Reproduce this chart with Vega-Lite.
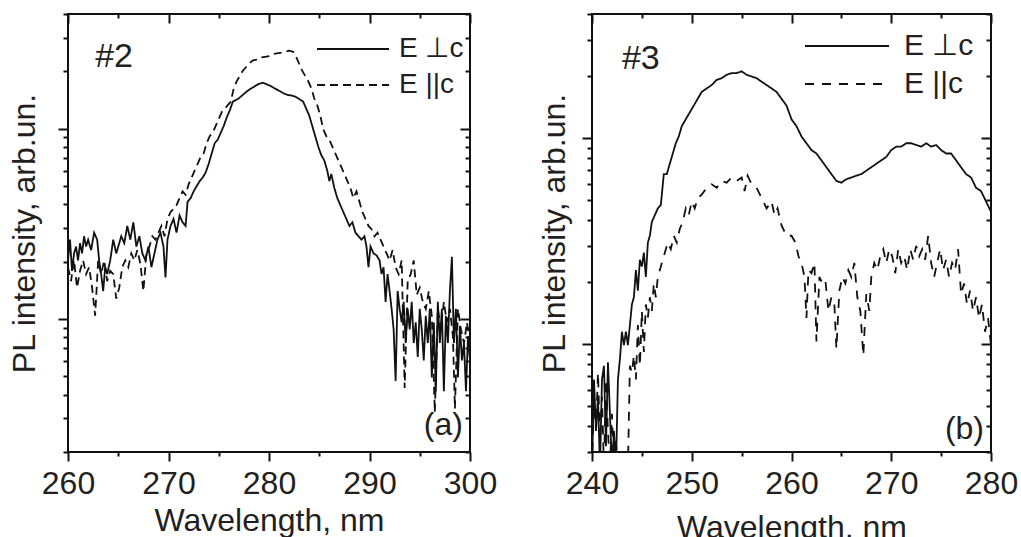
{
"$schema": "https://vega.github.io/schema/vega-lite/v6.json",
"background": "white",
"padding": {"left": 7, "top": 12, "right": 0, "bottom": 0},
"spacing": 39,
"config": {
  "font": "Liberation Sans",
  "view": {"stroke": "#111", "strokeWidth": 2},
  "axis": {"domain": false, "grid": false, "tickColor": "#111", "tickWidth": 2, "labelColor": "#231f20", "titleColor": "#231f20", "labelFontSize": 32, "titleFontSize": 32, "titleFontWeight": "normal", "labelFont": "Liberation Sans", "titleFont": "Liberation Sans", "labelFlush": false, "labelOverlap": false},
  "legend": {"labelColor": "#231f20", "labelFont": "Liberation Sans"}
},
"resolve": {"scale": {"strokeDash": "independent"}, "legend": {"strokeDash": "independent"}},
"datasets": {
"a": [
{"wl":260.0,"I":2.03,"s":"perp"},{"wl":260.2,"I":2.61,"s":"perp"},{"wl":260.4,"I":1.79,"s":"perp"},{"wl":260.6,"I":2.21,"s":"perp"},{"wl":260.8,"I":2.40,"s":"perp"},{"wl":261.0,"I":2.03,"s":"perp"},{"wl":261.2,"I":2.50,"s":"perp"},{"wl":261.4,"I":2.21,"s":"perp"},{"wl":261.6,"I":2.72,"s":"perp"},{"wl":261.8,"I":2.40,"s":"perp"},{"wl":262.0,"I":2.61,"s":"perp"},{"wl":262.3,"I":2.30,"s":"perp"},{"wl":262.6,"I":2.84,"s":"perp"},{"wl":262.9,"I":2.61,"s":"perp"},{"wl":263.1,"I":2.03,"s":"perp"},{"wl":263.3,"I":1.72,"s":"perp"},{"wl":263.5,"I":1.40,"s":"perp"},{"wl":263.7,"I":1.87,"s":"perp"},{"wl":263.9,"I":1.72,"s":"perp"},{"wl":264.2,"I":2.03,"s":"perp"},{"wl":264.5,"I":2.61,"s":"perp"},{"wl":264.8,"I":2.21,"s":"perp"},{"wl":265.0,"I":2.40,"s":"perp"},{"wl":265.3,"I":2.72,"s":"perp"},{"wl":265.6,"I":2.50,"s":"perp"},{"wl":265.9,"I":3.08,"s":"perp"},{"wl":266.2,"I":2.61,"s":"perp"},{"wl":266.5,"I":3.22,"s":"perp"},{"wl":266.8,"I":2.40,"s":"perp"},{"wl":267.1,"I":2.72,"s":"perp"},{"wl":267.4,"I":2.21,"s":"perp"},{"wl":267.7,"I":2.03,"s":"perp"},{"wl":268.0,"I":2.40,"s":"perp"},{"wl":268.3,"I":1.87,"s":"perp"},{"wl":268.6,"I":2.21,"s":"perp"},{"wl":268.9,"I":2.61,"s":"perp"},{"wl":269.2,"I":2.84,"s":"perp"},{"wl":269.5,"I":2.40,"s":"perp"},{"wl":269.7,"I":1.65,"s":"perp"},{"wl":269.9,"I":2.61,"s":"perp"},{"wl":270.2,"I":3.08,"s":"perp"},{"wl":270.5,"I":3.35,"s":"perp"},{"wl":270.8,"I":2.84,"s":"perp"},{"wl":271.1,"I":3.50,"s":"perp"},{"wl":271.4,"I":3.22,"s":"perp"},{"wl":271.7,"I":3.08,"s":"perp"},{"wl":271.9,"I":4.13,"s":"perp"},{"wl":272.2,"I":4.31,"s":"perp"},{"wl":272.5,"I":4.68,"s":"perp"},{"wl":272.8,"I":4.98,"s":"perp"},{"wl":273.1,"I":5.30,"s":"perp"},{"wl":273.4,"I":5.53,"s":"perp"},{"wl":273.7,"I":5.89,"s":"perp"},{"wl":274.0,"I":6.53,"s":"perp"},{"wl":274.3,"I":7.41,"s":"perp"},{"wl":274.6,"I":8.39,"s":"perp"},{"wl":274.9,"I":8.75,"s":"perp"},{"wl":275.2,"I":9.51,"s":"perp"},{"wl":275.5,"I":10.34,"s":"perp"},{"wl":275.8,"I":11.47,"s":"perp"},{"wl":276.1,"I":12.47,"s":"perp"},{"wl":276.4,"I":13.85,"s":"perp"},{"wl":276.7,"I":14.13,"s":"perp"},{"wl":277.0,"I":14.43,"s":"perp"},{"wl":277.4,"I":15.05,"s":"perp"},{"wl":277.8,"I":15.69,"s":"perp"},{"wl":278.2,"I":16.23,"s":"perp"},{"wl":278.6,"I":16.71,"s":"perp"},{"wl":279.0,"I":17.20,"s":"perp"},{"wl":279.4,"I":17.42,"s":"perp"},{"wl":279.8,"I":17.06,"s":"perp"},{"wl":280.2,"I":16.71,"s":"perp"},{"wl":280.6,"I":16.23,"s":"perp"},{"wl":281.0,"I":15.82,"s":"perp"},{"wl":281.4,"I":15.37,"s":"perp"},{"wl":281.8,"I":15.05,"s":"perp"},{"wl":282.2,"I":14.93,"s":"perp"},{"wl":282.6,"I":14.74,"s":"perp"},{"wl":283.0,"I":14.31,"s":"perp"},{"wl":283.4,"I":13.85,"s":"perp"},{"wl":283.7,"I":12.74,"s":"perp"},{"wl":284.0,"I":11.72,"s":"perp"},{"wl":284.3,"I":10.34,"s":"perp"},{"wl":284.6,"I":9.12,"s":"perp"},{"wl":284.9,"I":8.05,"s":"perp"},{"wl":285.2,"I":7.25,"s":"perp"},{"wl":285.5,"I":6.81,"s":"perp"},{"wl":285.8,"I":6.01,"s":"perp"},{"wl":286.0,"I":5.30,"s":"perp"},{"wl":286.2,"I":5.77,"s":"perp"},{"wl":286.5,"I":4.88,"s":"perp"},{"wl":286.8,"I":4.31,"s":"perp"},{"wl":287.1,"I":3.96,"s":"perp"},{"wl":287.4,"I":3.64,"s":"perp"},{"wl":287.7,"I":3.35,"s":"perp"},{"wl":288.0,"I":3.08,"s":"perp"},{"wl":288.3,"I":3.22,"s":"perp"},{"wl":288.6,"I":2.84,"s":"perp"},{"wl":288.9,"I":2.72,"s":"perp"},{"wl":289.2,"I":2.61,"s":"perp"},{"wl":289.5,"I":2.72,"s":"perp"},{"wl":289.7,"I":2.40,"s":"perp"},{"wl":289.9,"I":1.87,"s":"perp"},{"wl":290.1,"I":2.40,"s":"perp"},{"wl":290.4,"I":2.21,"s":"perp"},{"wl":290.7,"I":2.16,"s":"perp"},{"wl":291.0,"I":2.03,"s":"perp"},{"wl":291.2,"I":1.72,"s":"perp"},{"wl":291.4,"I":1.87,"s":"perp"},{"wl":291.6,"I":1.23,"s":"perp"},{"wl":291.8,"I":1.72,"s":"perp"},{"wl":292.0,"I":1.40,"s":"perp"},{"wl":292.2,"I":1.13,"s":"perp"},{"wl":292.4,"I":0.882,"s":"perp"},{"wl":292.6,"I":0.472,"s":"perp"},{"wl":292.8,"I":1.40,"s":"perp"},{"wl":293.0,"I":1.13,"s":"perp"},{"wl":293.2,"I":0.959,"s":"perp"},{"wl":293.4,"I":1.23,"s":"perp"},{"wl":293.6,"I":0.747,"s":"perp"},{"wl":293.8,"I":1.13,"s":"perp"},{"wl":294.0,"I":0.882,"s":"perp"},{"wl":294.2,"I":1.23,"s":"perp"},{"wl":294.4,"I":0.747,"s":"perp"},{"wl":294.6,"I":0.959,"s":"perp"},{"wl":294.8,"I":0.632,"s":"perp"},{"wl":295.0,"I":1.13,"s":"perp"},{"wl":295.2,"I":0.882,"s":"perp"},{"wl":295.4,"I":0.606,"s":"perp"},{"wl":295.6,"I":1.04,"s":"perp"},{"wl":295.8,"I":0.747,"s":"perp"},{"wl":296.0,"I":1.13,"s":"perp"},{"wl":296.2,"I":0.492,"s":"perp"},{"wl":296.4,"I":0.959,"s":"perp"},{"wl":296.6,"I":0.417,"s":"perp"},{"wl":296.8,"I":1.23,"s":"perp"},{"wl":297.0,"I":0.747,"s":"perp"},{"wl":297.2,"I":1.13,"s":"perp"},{"wl":297.4,"I":0.417,"s":"perp"},{"wl":297.6,"I":1.04,"s":"perp"},{"wl":297.8,"I":0.747,"s":"perp"},{"wl":298.0,"I":1.40,"s":"perp"},{"wl":298.2,"I":2.12,"s":"perp"},{"wl":298.4,"I":0.747,"s":"perp"},{"wl":298.6,"I":1.13,"s":"perp"},{"wl":298.8,"I":0.492,"s":"perp"},{"wl":299.0,"I":0.920,"s":"perp"},{"wl":299.2,"I":0.606,"s":"perp"},{"wl":299.4,"I":0.747,"s":"perp"},{"wl":299.6,"I":0.417,"s":"perp"},{"wl":299.8,"I":0.812,"s":"perp"},{"wl":300.0,"I":0.606,"s":"perp"},
{"wl":260.0,"I":1.87,"s":"par"},{"wl":260.3,"I":1.58,"s":"par"},{"wl":260.6,"I":2.03,"s":"par"},{"wl":260.9,"I":1.46,"s":"par"},{"wl":261.2,"I":1.79,"s":"par"},{"wl":261.5,"I":2.03,"s":"par"},{"wl":261.8,"I":1.72,"s":"par"},{"wl":262.1,"I":1.87,"s":"par"},{"wl":262.4,"I":1.46,"s":"par"},{"wl":262.7,"I":1.04,"s":"par"},{"wl":263.0,"I":2.03,"s":"par"},{"wl":263.3,"I":1.72,"s":"par"},{"wl":263.6,"I":2.03,"s":"par"},{"wl":263.9,"I":1.58,"s":"par"},{"wl":264.2,"I":1.79,"s":"par"},{"wl":264.5,"I":1.72,"s":"par"},{"wl":264.8,"I":1.28,"s":"par"},{"wl":265.1,"I":1.46,"s":"par"},{"wl":265.4,"I":1.87,"s":"par"},{"wl":265.7,"I":2.03,"s":"par"},{"wl":266.0,"I":1.87,"s":"par"},{"wl":266.3,"I":2.21,"s":"par"},{"wl":266.6,"I":2.03,"s":"par"},{"wl":266.9,"I":2.30,"s":"par"},{"wl":267.2,"I":1.95,"s":"par"},{"wl":267.5,"I":1.40,"s":"par"},{"wl":267.8,"I":2.21,"s":"par"},{"wl":268.1,"I":2.40,"s":"par"},{"wl":268.4,"I":2.72,"s":"par"},{"wl":268.7,"I":2.61,"s":"par"},{"wl":269.0,"I":2.84,"s":"par"},{"wl":269.3,"I":3.08,"s":"par"},{"wl":269.6,"I":2.72,"s":"par"},{"wl":269.9,"I":3.35,"s":"par"},{"wl":270.2,"I":3.64,"s":"par"},{"wl":270.5,"I":3.80,"s":"par"},{"wl":270.8,"I":3.96,"s":"par"},{"wl":271.1,"I":4.31,"s":"par"},{"wl":271.4,"I":4.68,"s":"par"},{"wl":271.7,"I":4.49,"s":"par"},{"wl":272.0,"I":5.09,"s":"par"},{"wl":272.3,"I":5.53,"s":"par"},{"wl":272.6,"I":6.01,"s":"par"},{"wl":272.9,"I":6.53,"s":"par"},{"wl":273.2,"I":7.10,"s":"par"},{"wl":273.5,"I":7.41,"s":"par"},{"wl":273.8,"I":8.39,"s":"par"},{"wl":274.1,"I":9.12,"s":"par"},{"wl":274.4,"I":9.51,"s":"par"},{"wl":274.7,"I":10.34,"s":"par"},{"wl":275.0,"I":11.24,"s":"par"},{"wl":275.3,"I":12.22,"s":"par"},{"wl":275.6,"I":12.74,"s":"par"},{"wl":275.9,"I":13.28,"s":"par"},{"wl":276.2,"I":13.85,"s":"par"},{"wl":276.5,"I":16.36,"s":"par"},{"wl":276.8,"I":17.78,"s":"par"},{"wl":277.1,"I":18.93,"s":"par"},{"wl":277.4,"I":20.15,"s":"par"},{"wl":277.7,"I":21.01,"s":"par"},{"wl":278.0,"I":21.91,"s":"par"},{"wl":278.4,"I":22.84,"s":"par"},{"wl":278.8,"I":23.03,"s":"par"},{"wl":279.2,"I":23.62,"s":"par"},{"wl":279.6,"I":23.82,"s":"par"},{"wl":280.0,"I":24.01,"s":"par"},{"wl":280.4,"I":24.62,"s":"par"},{"wl":280.8,"I":24.83,"s":"par"},{"wl":281.2,"I":25.04,"s":"par"},{"wl":281.6,"I":25.35,"s":"par"},{"wl":282.0,"I":25.67,"s":"par"},{"wl":282.4,"I":25.35,"s":"par"},{"wl":282.7,"I":23.82,"s":"par"},{"wl":283.0,"I":21.91,"s":"par"},{"wl":283.3,"I":20.15,"s":"par"},{"wl":283.6,"I":18.93,"s":"par"},{"wl":283.9,"I":17.78,"s":"par"},{"wl":284.2,"I":16.36,"s":"par"},{"wl":284.5,"I":14.43,"s":"par"},{"wl":284.8,"I":13.28,"s":"par"},{"wl":285.1,"I":11.72,"s":"par"},{"wl":285.4,"I":9.92,"s":"par"},{"wl":285.7,"I":9.12,"s":"par"},{"wl":286.0,"I":8.75,"s":"par"},{"wl":286.3,"I":8.05,"s":"par"},{"wl":286.6,"I":7.41,"s":"par"},{"wl":286.9,"I":6.81,"s":"par"},{"wl":287.2,"I":6.27,"s":"par"},{"wl":287.5,"I":5.77,"s":"par"},{"wl":287.8,"I":5.30,"s":"par"},{"wl":288.1,"I":4.88,"s":"par"},{"wl":288.4,"I":4.31,"s":"par"},{"wl":288.7,"I":4.68,"s":"par"},{"wl":289.0,"I":4.13,"s":"par"},{"wl":289.3,"I":3.64,"s":"par"},{"wl":289.6,"I":3.35,"s":"par"},{"wl":289.9,"I":3.08,"s":"par"},{"wl":290.2,"I":2.96,"s":"par"},{"wl":290.5,"I":2.72,"s":"par"},{"wl":290.8,"I":2.84,"s":"par"},{"wl":291.1,"I":2.61,"s":"par"},{"wl":291.4,"I":2.40,"s":"par"},{"wl":291.7,"I":2.21,"s":"par"},{"wl":292.0,"I":2.03,"s":"par"},{"wl":292.3,"I":2.30,"s":"par"},{"wl":292.6,"I":1.87,"s":"par"},{"wl":292.9,"I":1.72,"s":"par"},{"wl":293.2,"I":2.03,"s":"par"},{"wl":293.5,"I":0.434,"s":"par"},{"wl":293.8,"I":1.58,"s":"par"},{"wl":294.1,"I":1.72,"s":"par"},{"wl":294.4,"I":2.03,"s":"par"},{"wl":294.7,"I":1.34,"s":"par"},{"wl":295.0,"I":1.46,"s":"par"},{"wl":295.3,"I":1.23,"s":"par"},{"wl":295.6,"I":1.13,"s":"par"},{"wl":295.9,"I":1.40,"s":"par"},{"wl":296.2,"I":1.04,"s":"par"},{"wl":296.5,"I":0.324,"s":"par"},{"wl":296.8,"I":1.13,"s":"par"},{"wl":297.1,"I":0.882,"s":"par"},{"wl":297.4,"I":1.23,"s":"par"},{"wl":297.7,"I":0.959,"s":"par"},{"wl":298.0,"I":1.13,"s":"par"},{"wl":298.3,"I":0.812,"s":"par"},{"wl":298.5,"I":0.338,"s":"par"},{"wl":298.8,"I":1.13,"s":"par"},{"wl":299.1,"I":0.882,"s":"par"},{"wl":299.4,"I":0.747,"s":"par"},{"wl":299.7,"I":0.959,"s":"par"},{"wl":300.0,"I":0.747,"s":"par"}
],
"b": [
{"wl":240.0,"I":0.25,"s":"perp"},{"wl":240.2,"I":0.674,"s":"perp"},{"wl":240.4,"I":0.380,"s":"perp"},{"wl":240.6,"I":0.557,"s":"perp"},{"wl":240.8,"I":0.25,"s":"perp"},{"wl":241.0,"I":0.674,"s":"perp"},{"wl":241.2,"I":0.786,"s":"perp"},{"wl":241.4,"I":0.32,"s":"perp"},{"wl":241.6,"I":0.817,"s":"perp"},{"wl":241.8,"I":0.460,"s":"perp"},{"wl":242.0,"I":0.25,"s":"perp"},{"wl":242.2,"I":0.380,"s":"perp"},{"wl":242.4,"I":0.25,"s":"perp"},{"wl":242.6,"I":0.674,"s":"perp"},{"wl":242.8,"I":0.848,"s":"perp"},{"wl":243.0,"I":1.15,"s":"perp"},{"wl":243.2,"I":0.989,"s":"perp"},{"wl":243.4,"I":1.15,"s":"perp"},{"wl":243.6,"I":0.989,"s":"perp"},{"wl":243.8,"I":1.24,"s":"perp"},{"wl":244.0,"I":1.56,"s":"perp"},{"wl":244.2,"I":1.69,"s":"perp"},{"wl":244.4,"I":2.29,"s":"perp"},{"wl":244.6,"I":1.82,"s":"perp"},{"wl":244.8,"I":2.57,"s":"perp"},{"wl":245.0,"I":2.38,"s":"perp"},{"wl":245.2,"I":2.78,"s":"perp"},{"wl":245.4,"I":2.12,"s":"perp"},{"wl":245.6,"I":3.11,"s":"perp"},{"wl":245.8,"I":3.36,"s":"perp"},{"wl":246.0,"I":3.92,"s":"perp"},{"wl":246.3,"I":4.23,"s":"perp"},{"wl":246.6,"I":4.56,"s":"perp"},{"wl":246.9,"I":4.74,"s":"perp"},{"wl":247.2,"I":6.69,"s":"perp"},{"wl":247.5,"I":6.69,"s":"perp"},{"wl":247.8,"I":7.51,"s":"perp"},{"wl":248.1,"I":8.42,"s":"perp"},{"wl":248.4,"I":9.44,"s":"perp"},{"wl":248.7,"I":10.19,"s":"perp"},{"wl":249.0,"I":11.43,"s":"perp"},{"wl":249.4,"I":12.34,"s":"perp"},{"wl":249.8,"I":13.32,"s":"perp"},{"wl":250.2,"I":14.38,"s":"perp"},{"wl":250.6,"I":15.52,"s":"perp"},{"wl":251.0,"I":16.76,"s":"perp"},{"wl":251.5,"I":17.42,"s":"perp"},{"wl":252.0,"I":18.09,"s":"perp"},{"wl":252.5,"I":19.16,"s":"perp"},{"wl":253.0,"I":19.53,"s":"perp"},{"wl":253.5,"I":20.29,"s":"perp"},{"wl":254.0,"I":20.68,"s":"perp"},{"wl":254.5,"I":20.68,"s":"perp"},{"wl":255.0,"I":21.08,"s":"perp"},{"wl":255.5,"I":20.29,"s":"perp"},{"wl":256.0,"I":19.9,"s":"perp"},{"wl":256.5,"I":19.53,"s":"perp"},{"wl":257.0,"I":18.79,"s":"perp"},{"wl":257.5,"I":18.09,"s":"perp"},{"wl":258.0,"I":17.42,"s":"perp"},{"wl":258.5,"I":16.76,"s":"perp"},{"wl":259.0,"I":15.52,"s":"perp"},{"wl":259.5,"I":14.38,"s":"perp"},{"wl":260.0,"I":12.34,"s":"perp"},{"wl":260.5,"I":11.43,"s":"perp"},{"wl":261.0,"I":10.19,"s":"perp"},{"wl":261.5,"I":9.44,"s":"perp"},{"wl":262.0,"I":8.75,"s":"perp"},{"wl":262.5,"I":8.42,"s":"perp"},{"wl":263.0,"I":7.80,"s":"perp"},{"wl":263.5,"I":7.22,"s":"perp"},{"wl":264.0,"I":6.69,"s":"perp"},{"wl":264.5,"I":6.20,"s":"perp"},{"wl":265.0,"I":6.08,"s":"perp"},{"wl":265.5,"I":6.32,"s":"perp"},{"wl":266.0,"I":6.44,"s":"perp"},{"wl":266.5,"I":6.57,"s":"perp"},{"wl":267.0,"I":6.69,"s":"perp"},{"wl":267.5,"I":6.95,"s":"perp"},{"wl":268.0,"I":7.22,"s":"perp"},{"wl":268.5,"I":7.51,"s":"perp"},{"wl":269.0,"I":7.80,"s":"perp"},{"wl":269.5,"I":8.10,"s":"perp"},{"wl":270.0,"I":8.75,"s":"perp"},{"wl":270.5,"I":9.09,"s":"perp"},{"wl":271.0,"I":9.09,"s":"perp"},{"wl":271.5,"I":9.44,"s":"perp"},{"wl":272.0,"I":9.44,"s":"perp"},{"wl":272.5,"I":9.26,"s":"perp"},{"wl":273.0,"I":9.09,"s":"perp"},{"wl":273.5,"I":9.44,"s":"perp"},{"wl":274.0,"I":9.09,"s":"perp"},{"wl":274.5,"I":9.26,"s":"perp"},{"wl":275.0,"I":8.75,"s":"perp"},{"wl":275.5,"I":8.42,"s":"perp"},{"wl":276.0,"I":8.42,"s":"perp"},{"wl":276.5,"I":7.80,"s":"perp"},{"wl":277.0,"I":7.22,"s":"perp"},{"wl":277.5,"I":6.69,"s":"perp"},{"wl":278.0,"I":6.44,"s":"perp"},{"wl":278.5,"I":5.74,"s":"perp"},{"wl":279.0,"I":5.53,"s":"perp"},{"wl":279.5,"I":4.93,"s":"perp"},{"wl":280.0,"I":4.39,"s":"perp"},
{"wl":240.0,"I":0.25,"s":"par"},{"wl":240.2,"I":0.557,"s":"par"},{"wl":240.4,"I":0.38,"s":"par"},{"wl":240.6,"I":0.728,"s":"par"},{"wl":240.8,"I":0.339,"s":"par"},{"wl":241.0,"I":0.557,"s":"par"},{"wl":241.2,"I":0.25,"s":"par"},{"wl":241.4,"I":0.674,"s":"par"},{"wl":241.6,"I":0.38,"s":"par"},{"wl":241.8,"I":0.25,"s":"par"},{"wl":242.0,"I":0.46,"s":"par"},{"wl":242.2,"I":0.25,"s":"par"},{"wl":242.4,"I":0.339,"s":"par"},{"wl":242.6,"I":0.25,"s":"par"},{"wl":243.0,"I":0.25,"s":"par"},{"wl":243.6,"I":0.25,"s":"par"},{"wl":243.8,"I":0.786,"s":"par"},{"wl":244.0,"I":0.728,"s":"par"},{"wl":244.2,"I":0.882,"s":"par"},{"wl":244.4,"I":0.674,"s":"par"},{"wl":244.6,"I":1.24,"s":"par"},{"wl":244.8,"I":0.786,"s":"par"},{"wl":245.0,"I":1.45,"s":"par"},{"wl":245.2,"I":0.916,"s":"par"},{"wl":245.4,"I":1.56,"s":"par"},{"wl":245.6,"I":1.34,"s":"par"},{"wl":245.8,"I":1.69,"s":"par"},{"wl":246.0,"I":1.45,"s":"par"},{"wl":246.2,"I":1.97,"s":"par"},{"wl":246.4,"I":1.69,"s":"par"},{"wl":246.6,"I":2.12,"s":"par"},{"wl":246.8,"I":2.29,"s":"par"},{"wl":247.0,"I":2.48,"s":"par"},{"wl":247.3,"I":2.78,"s":"par"},{"wl":247.6,"I":3.11,"s":"par"},{"wl":247.9,"I":2.89,"s":"par"},{"wl":248.2,"I":3.36,"s":"par"},{"wl":248.5,"I":3.11,"s":"par"},{"wl":248.8,"I":3.63,"s":"par"},{"wl":249.1,"I":3.92,"s":"par"},{"wl":249.4,"I":4.56,"s":"par"},{"wl":249.7,"I":4.23,"s":"par"},{"wl":250.0,"I":4.93,"s":"par"},{"wl":250.3,"I":4.56,"s":"par"},{"wl":250.6,"I":5.12,"s":"par"},{"wl":251.0,"I":5.32,"s":"par"},{"wl":251.5,"I":5.74,"s":"par"},{"wl":252.0,"I":5.97,"s":"par"},{"wl":252.5,"I":5.74,"s":"par"},{"wl":253.0,"I":6.20,"s":"par"},{"wl":253.5,"I":6.08,"s":"par"},{"wl":254.0,"I":6.44,"s":"par"},{"wl":254.5,"I":6.20,"s":"par"},{"wl":255.0,"I":6.44,"s":"par"},{"wl":255.3,"I":5.53,"s":"par"},{"wl":255.6,"I":6.57,"s":"par"},{"wl":256.0,"I":5.97,"s":"par"},{"wl":256.5,"I":5.74,"s":"par"},{"wl":257.0,"I":5.12,"s":"par"},{"wl":257.5,"I":4.56,"s":"par"},{"wl":258.0,"I":4.93,"s":"par"},{"wl":258.3,"I":4.23,"s":"par"},{"wl":258.6,"I":4.56,"s":"par"},{"wl":259.0,"I":3.77,"s":"par"},{"wl":259.5,"I":3.36,"s":"par"},{"wl":260.0,"I":3.36,"s":"par"},{"wl":260.4,"I":3.11,"s":"par"},{"wl":260.7,"I":2.67,"s":"par"},{"wl":261.0,"I":2.48,"s":"par"},{"wl":261.3,"I":2.12,"s":"par"},{"wl":261.5,"I":1.34,"s":"par"},{"wl":261.7,"I":2.29,"s":"par"},{"wl":262.0,"I":2.21,"s":"par"},{"wl":262.3,"I":2.48,"s":"par"},{"wl":262.5,"I":1.03,"s":"par"},{"wl":262.8,"I":2.12,"s":"par"},{"wl":263.1,"I":1.97,"s":"par"},{"wl":263.4,"I":2.04,"s":"par"},{"wl":263.7,"I":1.45,"s":"par"},{"wl":264.0,"I":1.69,"s":"par"},{"wl":264.3,"I":1.56,"s":"par"},{"wl":264.5,"I":0.951,"s":"par"},{"wl":264.8,"I":1.82,"s":"par"},{"wl":265.1,"I":2.12,"s":"par"},{"wl":265.4,"I":1.97,"s":"par"},{"wl":265.7,"I":2.29,"s":"par"},{"wl":266.0,"I":2.12,"s":"par"},{"wl":266.3,"I":2.48,"s":"par"},{"wl":266.6,"I":1.69,"s":"par"},{"wl":266.9,"I":1.45,"s":"par"},{"wl":267.2,"I":0.882,"s":"par"},{"wl":267.5,"I":1.75,"s":"par"},{"wl":267.8,"I":1.45,"s":"par"},{"wl":268.0,"I":2.12,"s":"par"},{"wl":268.3,"I":2.48,"s":"par"},{"wl":268.6,"I":2.29,"s":"par"},{"wl":268.9,"I":2.67,"s":"par"},{"wl":269.2,"I":2.89,"s":"par"},{"wl":269.5,"I":2.48,"s":"par"},{"wl":269.8,"I":2.89,"s":"par"},{"wl":270.1,"I":2.67,"s":"par"},{"wl":270.4,"I":2.21,"s":"par"},{"wl":270.7,"I":2.89,"s":"par"},{"wl":271.0,"I":2.48,"s":"par"},{"wl":271.3,"I":2.67,"s":"par"},{"wl":271.6,"I":2.29,"s":"par"},{"wl":271.9,"I":2.89,"s":"par"},{"wl":272.2,"I":2.57,"s":"par"},{"wl":272.5,"I":3.0,"s":"par"},{"wl":272.8,"I":2.67,"s":"par"},{"wl":273.1,"I":2.89,"s":"par"},{"wl":273.4,"I":2.57,"s":"par"},{"wl":273.7,"I":3.36,"s":"par"},{"wl":274.0,"I":2.48,"s":"par"},{"wl":274.3,"I":2.12,"s":"par"},{"wl":274.6,"I":2.48,"s":"par"},{"wl":274.9,"I":2.89,"s":"par"},{"wl":275.2,"I":2.29,"s":"par"},{"wl":275.5,"I":2.57,"s":"par"},{"wl":275.8,"I":2.12,"s":"par"},{"wl":276.1,"I":2.48,"s":"par"},{"wl":276.4,"I":2.29,"s":"par"},{"wl":276.7,"I":2.89,"s":"par"},{"wl":277.0,"I":1.75,"s":"par"},{"wl":277.3,"I":1.97,"s":"par"},{"wl":277.6,"I":1.56,"s":"par"},{"wl":277.9,"I":1.82,"s":"par"},{"wl":278.2,"I":1.45,"s":"par"},{"wl":278.5,"I":1.69,"s":"par"},{"wl":278.8,"I":1.34,"s":"par"},{"wl":279.1,"I":1.56,"s":"par"},{"wl":279.4,"I":1.15,"s":"par"},{"wl":279.7,"I":1.34,"s":"par"},{"wl":280.0,"I":0.989,"s":"par"}
]
},
"hconcat": [
{
  "width": 402, "height": 438,
  "layer": [
    {
      "data": {"name": "a"},
      "mark": {"type": "line", "clip": true, "strokeWidth": 1.8, "color": "#111"},
      "encoding": {
        "x": {"field": "wl", "type": "quantitative", "scale": {"domain": [260, 300], "nice": false, "zero": false},
              "axis": {"orient": "bottom", "values": [260,270,280,290,300], "tickSize": 9, "labelPadding": 7, "title": "Wavelength, nm", "titlePadding": 6}},
        "y": {"field": "I", "type": "quantitative", "scale": {"type": "log", "domain": [0.2, 40], "nice": false},
              "axis": {"orient": "left", "values": [1, 10], "labels": false, "tickSize": 10, "title": "PL intensity, arb.un.", "titlePadding": 16}},
        "strokeDash": {"field": "s", "type": "nominal", "scale": {"domain": ["perp", "par"], "range": [[1, 0], [8, 5]]},
              "legend": {"orient": "top-right", "title": " ", "titleFontSize": 11, "titlePadding": 4, "offset": 6, "padding": 0, "symbolType": "M-1,0H11", "symbolSize": 144, "symbolStrokeWidth": 2, "labelOffset": 62, "labelFontSize": 28, "rowPadding": 8, "labelExpr": "datum.value == 'perp' ? 'E ⊥c' : 'E ||c'"}}
      }
    },
    {
      "data": {"values": [{"wl": 262.7, "I": 23.8, "label": "#2"}]},
      "mark": {"type": "text", "align": "left", "baseline": "middle", "fontSize": 34, "color": "#231f20"},
      "encoding": {
        "x": {"field": "wl", "type": "quantitative", "scale": {"domain": [260, 300], "nice": false, "zero": false},
              "axis": {"orient": "top", "values": [260,270,280,290,300], "labels": false, "title": null, "tickSize": -9}},
        "y": {"field": "I", "type": "quantitative", "scale": {"type": "log", "domain": [0.2, 40], "nice": false},
              "axis": {"orient": "right", "values": [1, 10], "labels": false, "title": null, "tickSize": -10}},
        "text": {"field": "label"}
      }
    },
    {
      "data": {"values": [{"wl": 299.3, "I": 0.277, "label": "(a)"}]},
      "mark": {"type": "text", "align": "right", "baseline": "middle", "fontSize": 32, "color": "#231f20"},
      "encoding": {
        "x": {"field": "wl", "type": "quantitative", "scale": {"domain": [260, 300], "nice": false, "zero": false},
              "axis": {"orient": "bottom", "values": [265,275,285,295], "labels": false, "title": null, "tickSize": 4}},
        "y": {"field": "I", "type": "quantitative", "scale": {"type": "log", "domain": [0.2, 40], "nice": false},
              "axis": {"orient": "left", "values": [0.2,0.3,0.4,0.5,0.6,0.7,0.8,0.9,2,3,4,5,6,7,8,9,20,30,40], "labels": false, "title": null, "tickSize": 5}},
        "text": {"field": "label"}
      }
    },
    {
      "data": {"values": [{"wl": 262.7, "I": 23.8, "label": "#2"}]},
      "mark": {"type": "text", "opacity": 0, "fontSize": 10},
      "encoding": {
        "x": {"field": "wl", "type": "quantitative", "scale": {"domain": [260, 300], "nice": false, "zero": false},
              "axis": {"orient": "top", "values": [265,275,285,295], "labels": false, "title": null, "tickSize": -4}},
        "y": {"field": "I", "type": "quantitative", "scale": {"type": "log", "domain": [0.2, 40], "nice": false},
              "axis": {"orient": "right", "values": [0.2,0.3,0.4,0.5,0.6,0.7,0.8,0.9,2,3,4,5,6,7,8,9,20,30,40], "labels": false, "title": null, "tickSize": -5}},
        "text": {"field": "label"}
      }
    }
  ],
  "resolve": {"axis": {"x": "independent", "y": "independent"}}
},
{
  "width": 399, "height": 438,
  "layer": [
    {
      "data": {"name": "b"},
      "mark": {"type": "line", "clip": true, "strokeWidth": 1.8, "color": "#111"},
      "encoding": {
        "x": {"field": "wl", "type": "quantitative", "scale": {"domain": [240, 280], "nice": false, "zero": false},
              "axis": {"orient": "bottom", "values": [240,250,260,270,280], "tickSize": 9, "labelPadding": 7, "title": "Wavelength, nm", "titlePadding": 13}},
        "y": {"field": "I", "type": "quantitative", "scale": {"type": "log", "domain": [0.3, 40], "nice": false},
              "axis": {"orient": "left", "values": [1, 10], "labels": false, "tickSize": 10, "title": "PL intensity, arb.un.", "titlePadding": 10}},
        "strokeDash": {"field": "s", "type": "nominal", "scale": {"domain": ["perp", "par"], "range": [[1, 0], [9, 8]]},
              "legend": {"orient": "top-right", "title": null, "offset": 17, "padding": 0, "symbolType": "M-1,0H13", "symbolSize": 144, "symbolStrokeWidth": 2, "labelOffset": 78, "labelFontSize": 30, "rowPadding": 8, "labelExpr": "datum.value == 'perp' ? 'E ⊥c' : 'E ||c'"}}
      }
    },
    {
      "data": {"values": [{"wl": 243.0, "I": 24.2, "label": "#3"}]},
      "mark": {"type": "text", "align": "left", "baseline": "middle", "fontSize": 34, "color": "#231f20"},
      "encoding": {
        "x": {"field": "wl", "type": "quantitative", "scale": {"domain": [240, 280], "nice": false, "zero": false},
              "axis": {"orient": "top", "values": [240,250,260,270,280], "labels": false, "title": null, "tickSize": -9}},
        "y": {"field": "I", "type": "quantitative", "scale": {"type": "log", "domain": [0.3, 40], "nice": false},
              "axis": {"orient": "right", "values": [1, 10], "labels": false, "title": null, "tickSize": -10}},
        "text": {"field": "label"}
      }
    },
    {
      "data": {"values": [{"wl": 279.3, "I": 0.388, "label": "(b)"}]},
      "mark": {"type": "text", "align": "right", "baseline": "middle", "fontSize": 32, "color": "#231f20"},
      "encoding": {
        "x": {"field": "wl", "type": "quantitative", "scale": {"domain": [240, 280], "nice": false, "zero": false},
              "axis": {"orient": "bottom", "values": [245,255,265,275], "labels": false, "title": null, "tickSize": 4}},
        "y": {"field": "I", "type": "quantitative", "scale": {"type": "log", "domain": [0.3, 40], "nice": false},
              "axis": {"orient": "left", "values": [0.3,0.4,0.5,0.6,0.7,0.8,0.9,2,3,4,5,6,7,8,9,20,30,40], "labels": false, "title": null, "tickSize": 5}},
        "text": {"field": "label"}
      }
    },
    {
      "data": {"values": [{"wl": 243.0, "I": 24.2, "label": "#3"}]},
      "mark": {"type": "text", "opacity": 0, "fontSize": 10},
      "encoding": {
        "x": {"field": "wl", "type": "quantitative", "scale": {"domain": [240, 280], "nice": false, "zero": false},
              "axis": {"orient": "top", "values": [245,255,265,275], "labels": false, "title": null, "tickSize": -4}},
        "y": {"field": "I", "type": "quantitative", "scale": {"type": "log", "domain": [0.3, 40], "nice": false},
              "axis": {"orient": "right", "values": [0.3,0.4,0.5,0.6,0.7,0.8,0.9,2,3,4,5,6,7,8,9,20,30,40], "labels": false, "title": null, "tickSize": -5}},
        "text": {"field": "label"}
      }
    }
  ],
  "resolve": {"axis": {"x": "independent", "y": "independent"}}
}
]
}
